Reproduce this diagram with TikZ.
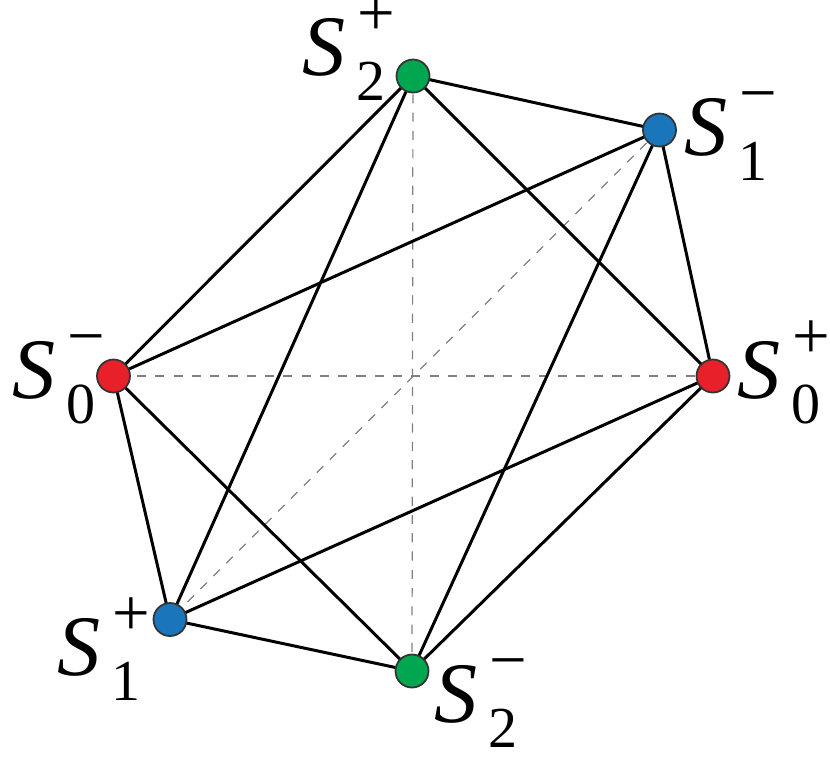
\documentclass[tikz,border=0pt]{standalone}
\usepackage{fontspec}
\setmainfont{Liberation Serif}[ItalicFont={Liberation Serif Italic}]
\newfontfamily\tms{Liberation Serif}
\newfontfamily\tmsit{Liberation Serif Italic}
\definecolor{cred}{HTML}{E8202A}
\definecolor{cgreen}{HTML}{00A650}
\definecolor{cblue}{HTML}{1B75BB}
\newcommand\scrsz{\tms\fontsize{16.5}{16.5}\selectfont}
\newcommand\supsz{\tms\fontsize{19}{19}\selectfont}
\newcommand\lbl[2]{{\tmsit S}\kern0.12em\rlap{\kern0.02em\smash{\raisebox{0.46em}{\supsz #2}}}\raisebox{-0.3em}{\scrsz #1}}
\tikzset{
  vert/.style={circle, draw=black!80, line width=0.5pt, minimum size=0.33cm, inner sep=0pt},
  edge/.style={line width=0.85pt, black},
  diag/.style={line width=0.35pt, gray, dash pattern=on 2.6pt off 2.6pt},
  lab/.style={anchor=base west, inner sep=0pt, font=\fontsize{24.5}{24.5}\selectfont}
}
\begin{document}
\begin{tikzpicture}[x=0.01cm,y=-0.01cm]
\useasboundingbox (0,0) rectangle (830,756);
\coordinate (p2p) at (413,76);
\coordinate (p1m) at (659.5,130);
\coordinate (p0p) at (713,376);
\coordinate (p2m) at (412,671);
\coordinate (p1p) at (170,619.5);
\coordinate (p0m) at (113.5,376);
% dashed diagonals
\draw[diag] (p2p) -- (p2m);
\draw[diag] (p1m) -- (p1p);
\draw[diag] (p0p) -- (p0m);
% solid edges
\draw[edge] (p2p) -- (p1m);
\draw[edge] (p2p) -- (p0p);
\draw[edge] (p2p) -- (p0m);
\draw[edge] (p2p) -- (p1p);
\draw[edge] (p1m) -- (p0p);
\draw[edge] (p1m) -- (p0m);
\draw[edge] (p1m) -- (p2m);
\draw[edge] (p0p) -- (p2m);
\draw[edge] (p0p) -- (p1p);
\draw[edge] (p2m) -- (p1p);
\draw[edge] (p2m) -- (p0m);
\draw[edge] (p0m) -- (p1p);
% vertices
\node[vert, fill=cgreen] (v2p) at (p2p) {};
\node[vert, fill=cblue] (v1m) at (p1m) {};
\node[vert, fill=cred] (v0p) at (p0p) {};
\node[vert, fill=cgreen] (v2m) at (p2m) {};
\node[vert, fill=cblue] (v1p) at (p1p) {};
\node[vert, fill=cred] (v0m) at (p0m) {};
% labels
\node[lab] (l2p) at (302,75) {\lbl{2}{+}};
\node[lab] (l1m) at (684,155) {\lbl{1}{−}};
\node[lab] (l0p) at (737,398) {\lbl{0}{+}};
\node[lab] (l0m) at (12,398) {\lbl{0}{−}};
\node[lab] (l1p) at (57,675) {\lbl{1}{+}};
\node[lab] (l2m) at (434,722) {\lbl{2}{−}};
\end{tikzpicture}
\end{document}
